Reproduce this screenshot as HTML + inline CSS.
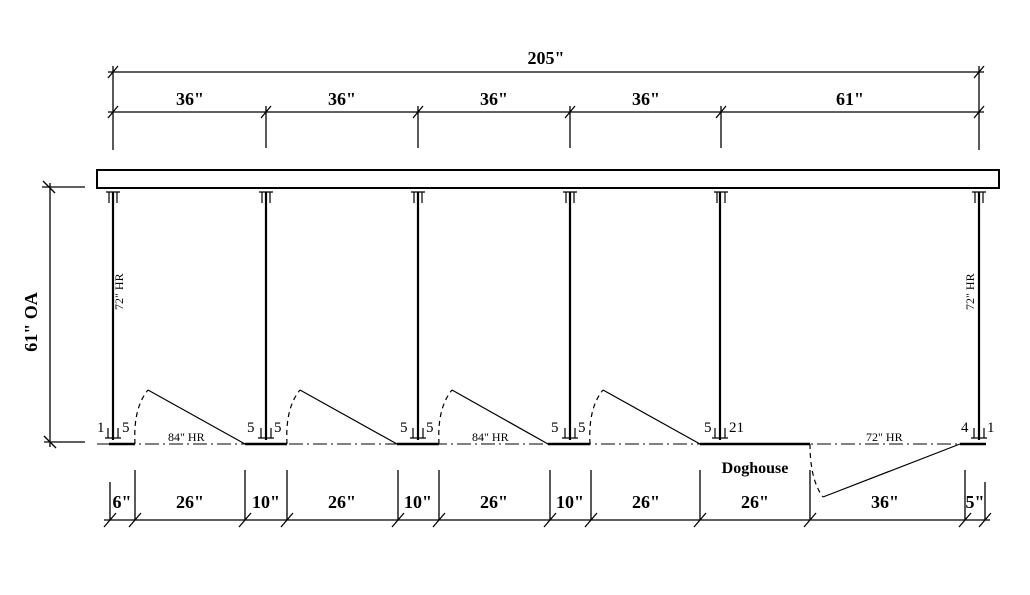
<!DOCTYPE html>
<html><head><meta charset="utf-8"><style>
html,body{margin:0;padding:0;background:#fff;}
svg{display:block;}
.d{font-family:"Liberation Serif",serif;font-weight:bold;font-size:18px;text-anchor:middle;}
.s{font-family:"Liberation Serif",serif;font-size:15px;}
.h{font-family:"Liberation Serif",serif;font-size:12px;}
</style></head><body>
<svg width="1030" height="595" viewBox="0 0 1030 595" xmlns="http://www.w3.org/2000/svg">
<g stroke="#000" fill="none" stroke-width="1.3">
<line x1="108" y1="72" x2="984" y2="72"/>
<line x1="113" y1="66" x2="113" y2="150"/>
<line x1="979" y1="66" x2="979" y2="150"/>
<line x1="108" y1="78" x2="118" y2="66"/><line x1="974" y1="78" x2="984" y2="66"/>
<line x1="108" y1="112" x2="984" y2="112"/>
<line x1="266" y1="106" x2="266" y2="148"/>
<line x1="418" y1="106" x2="418" y2="148"/>
<line x1="570" y1="106" x2="570" y2="148"/>
<line x1="721" y1="106" x2="721" y2="148"/>
<line x1="108" y1="118" x2="118" y2="106"/>
<line x1="261" y1="118" x2="271" y2="106"/>
<line x1="413" y1="118" x2="423" y2="106"/>
<line x1="565" y1="118" x2="575" y2="106"/>
<line x1="716" y1="118" x2="726" y2="106"/>
<line x1="974" y1="118" x2="984" y2="106"/>
<line x1="50" y1="183" x2="50" y2="447"/>
<line x1="42" y1="187" x2="85" y2="187"/>
<line x1="44" y1="442" x2="85" y2="442"/>
<line x1="43" y1="181" x2="55" y2="193"/>
<line x1="44" y1="436" x2="56" y2="448"/>
<rect x="97" y="170" width="902" height="18" stroke-width="2"/>
</g>
<g stroke="#000" fill="none" stroke-width="1.2">
<path d="M106 192H120M109 192V203M117 192V203 M259 192H273M262 192V203M270 192V203 M411 192H425M414 192V203M422 192V203 M563 192H577M566 192V203M574 192V203 M714 192H728M717 192V203M725 192V203 M972 192H986M975 192V203M983 192V203"/>
<path d="M105 438H121M108 428V438M118 428V438 M258 438H274M261 428V438M271 428V438 M410 438H426M413 428V438M423 428V438 M562 438H578M565 428V438M575 428V438 M712 438H728M715 428V438M725 428V438 M971 438H987M974 428V438M984 428V438"/>
</g>
<g stroke="#000" stroke-width="2.2">
<line x1="113" y1="192" x2="113" y2="440"/>
<line x1="266" y1="192" x2="266" y2="440"/>
<line x1="418" y1="192" x2="418" y2="440"/>
<line x1="570" y1="192" x2="570" y2="440"/>
<line x1="720" y1="192" x2="720" y2="440"/>
<line x1="979" y1="192" x2="979" y2="440"/>
</g>
<line x1="97" y1="444" x2="985" y2="444" stroke="#000" stroke-width="1" stroke-dasharray="14,4,2,4"/>
<g stroke="#000" stroke-width="2.5">
<line x1="109" y1="444" x2="135" y2="444"/>
<line x1="245" y1="444" x2="287" y2="444"/>
<line x1="397" y1="444" x2="439" y2="444"/>
<line x1="548" y1="444" x2="590" y2="444"/>
<line x1="700" y1="444" x2="810" y2="444"/>
<line x1="960" y1="444" x2="986" y2="444"/>
</g>
<g stroke="#000" fill="none" stroke-width="1.2">
<path d="M148 390L245 444 M300 390L397 444 M452 390L548 444 M603 390L700 444 M823 497L960 444"/>
<path d="M135 444Q133 408 148 390 M287 444Q285 408 300 390 M439 444Q437 408 452 390 M590 444Q588 408 603 390 M810 444Q810 480 823 497" stroke-dasharray="5,4"/>
</g>
<g stroke="#000" fill="none" stroke-width="1.3">
<line x1="104" y1="520" x2="990" y2="520"/>
<path d="M110 482V520 M135 470V520 M245 470V520 M287 470V520 M398 470V520 M439 470V520 M550 470V520 M591 470V520 M700 470V520 M810 470V520 M965 470V520 M985 482V520"/>
<path d="M104 527L116 513 M129 527L141 513 M239 527L251 513 M281 527L293 513 M392 527L404 513 M433 527L445 513 M544 527L556 513 M585 527L597 513 M694 527L706 513 M804 527L816 513 M959 527L971 513 M979 527L991 513"/>
</g>
<text class="d" x="546" y="64">205"</text>
<text class="d" x="190" y="105">36"</text>
<text class="d" x="342" y="105">36"</text>
<text class="d" x="494" y="105">36"</text>
<text class="d" x="646" y="105">36"</text>
<text class="d" x="850" y="105">61"</text>
<text class="d" transform="translate(37,322) rotate(-90)">61" OA</text>
<text class="d" x="122" y="508">6"</text>
<text class="d" x="190" y="508">26"</text>
<text class="d" x="266" y="508">10"</text>
<text class="d" x="342" y="508">26"</text>
<text class="d" x="418" y="508">10"</text>
<text class="d" x="494" y="508">26"</text>
<text class="d" x="570" y="508">10"</text>
<text class="d" x="646" y="508">26"</text>
<text class="d" x="755" y="508">26"</text>
<text class="d" x="885" y="508">36"</text>
<text class="d" x="975" y="508">5"</text>
<text class="d" x="755" y="473" style="font-size:16px">Doghouse</text>
<text class="h" transform="translate(123,310) rotate(-90)">72" HR</text>
<text class="h" transform="translate(974,310) rotate(-90)">72" HR</text>
<text class="h" x="168" y="441">84" HR</text>
<text class="h" x="472" y="441">84" HR</text>
<text class="h" x="866" y="441">72" HR</text>
<text class="s" x="97" y="432">1</text>
<text class="s" x="122" y="432">5</text>
<text class="s" x="247" y="432">5</text>
<text class="s" x="274" y="432">5</text>
<text class="s" x="400" y="432">5</text>
<text class="s" x="426" y="432">5</text>
<text class="s" x="551" y="432">5</text>
<text class="s" x="578" y="432">5</text>
<text class="s" x="704" y="432">5</text>
<text class="s" x="729" y="432">21</text>
<text class="s" x="961" y="432">4</text>
<text class="s" x="987" y="432">1</text>
</svg>
</body></html>
